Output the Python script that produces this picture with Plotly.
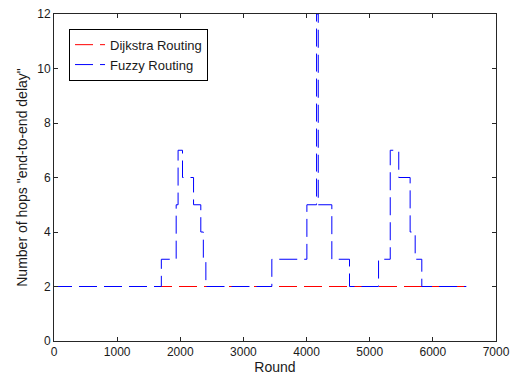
import plotly.graph_objects as go

# Data
dijkstra_round = [0, 6500]
dijkstra_hops = [2, 2]

fuzzy_round = [0, 1700, 1935, 1965, 2035, 2210, 2325, 2365, 2405, 3450, 4005,
               4158, 4185, 4400, 4680, 5140, 5325, 5460, 5640, 5720, 5825, 6530]
fuzzy_hops = [2, 3, 5, 7, 6, 5, 4, 3, 2, 3, 5,
              12, 5, 3, 2, 3, 7, 6, 4, 3, 2, 2]

x_ticks = [0, 1000, 2000, 3000, 4000, 5000, 6000, 7000]
y_ticks = [0, 2, 4, 6, 8, 10, 12]

fig = go.Figure()
fig.add_trace(go.Scatter(
    x=dijkstra_round, y=dijkstra_hops, mode="lines", name="Dijkstra Routing",
    line=dict(color="#ff0000", width=1, dash="18px,7px", shape="hv"),
))
fig.add_trace(go.Scatter(
    x=fuzzy_round, y=fuzzy_hops, mode="lines", name="Fuzzy Routing",
    line=dict(color="#0000ff", width=1, dash="18px,7px", shape="hv"),
))

axis_common = dict(
    showgrid=False, zeroline=False, showline=True, linecolor="#262626",
    linewidth=1, mirror="ticks", ticks="inside", ticklen=4, tickcolor="#262626",
    tickfont=dict(family="Liberation Sans, Arial", size=12, color="#1a1a1a"),
    automargin=False,
)

fig.update_layout(
    width=517, height=376,
    margin=dict(l=54, r=21, t=14, b=35),
    paper_bgcolor="white", plot_bgcolor="white",
    font=dict(family="Liberation Sans, Arial", size=12, color="#1a1a1a"),
    xaxis=dict(range=[0, 7000], tickvals=x_ticks,
               title=dict(text="Round", standoff=2), **axis_common),
    yaxis=dict(range=[0, 12], tickvals=y_ticks,
               title=dict(text='Number of hops "end-to-end delay"', standoff=6),
               **axis_common),
    legend=dict(x=0.034, y=0.955, xanchor="left", yanchor="top",
                bgcolor="white", bordercolor="black", borderwidth=1,
                font=dict(family="Liberation Sans, Arial", size=13, color="#1a1a1a"),
                tracegroupgap=0, itemwidth=30, entrywidth=150, entrywidthmode="pixels"),
    showlegend=True,
)

fig.write_html("out.html")
